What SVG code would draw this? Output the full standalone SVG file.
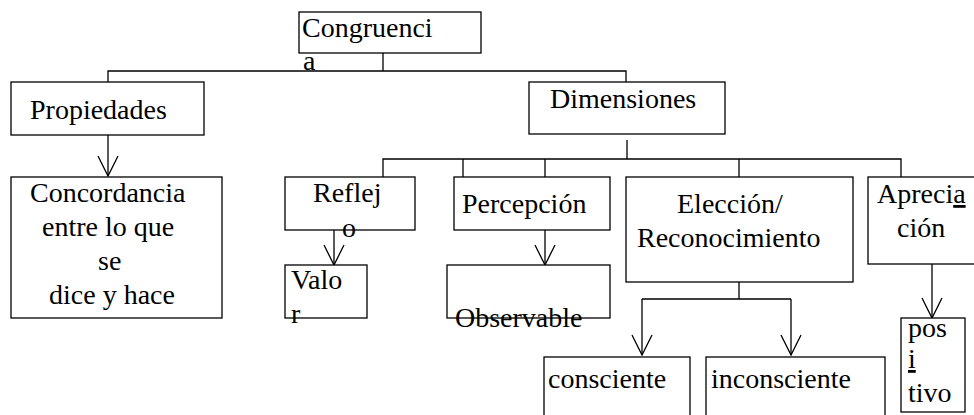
<svg xmlns="http://www.w3.org/2000/svg" width="974" height="415" viewBox="0 0 974 415" font-family="'Liberation Serif', 'Times New Roman', Times, 'DejaVu Serif', serif">
<style>
.box{fill:#fff;stroke:#000;stroke-width:1.3}
.t{font-family:'Liberation Serif','Times New Roman',Times,'DejaVu Serif',serif;font-size:28px;fill:#000}
.c{fill:none;stroke:#000;stroke-width:1.3}
.u{text-decoration:underline}
</style>
<defs>
<marker id="v" viewBox="-21 -11 22 22" markerWidth="22" markerHeight="22" refX="0" refY="0" orient="auto" markerUnits="userSpaceOnUse" overflow="visible">
<path d="M-20,-10 L0,0 L-20,10" fill="none" stroke="#000" stroke-width="1.3"/>
</marker>
</defs>
<rect width="974" height="415" fill="#fff"/>
<g id="connectors">
<path class="c" d="M383,53 V71 M108,89 V71 H626 V89"/>
<path class="c" d="M108,135 V176" marker-end="url(#v)"/>
<path class="c" d="M627,140 V159 M383,177 V159 H901 V177 M463,159 V177 M545,159 V177 M739,159 V177"/>
<path class="c" d="M334,230 V265" marker-end="url(#v)"/>
<path class="c" d="M545,230 V265" marker-end="url(#v)"/>
<path class="c" d="M739,282 V299 M642,299 H791"/>
<path class="c" d="M642,299 V355" marker-end="url(#v)"/>
<path class="c" d="M791,299 V355" marker-end="url(#v)"/>
<path class="c" d="M932,264 V318" marker-end="url(#v)"/>
</g>
<g id="congruencia">
<rect class="box" x="299" y="12" width="182" height="41"/>
<text class="t" x="302" y="37">Congruenci</text>
<text class="t" x="303" y="70">a</text>
</g>
<g id="propiedades">
<rect class="box" x="11" y="82" width="193" height="53"/>
<text class="t" x="30" y="119">Propiedades</text>
</g>
<g id="dimensiones">
<rect class="box" x="529" y="82" width="196" height="52"/>
<text class="t" x="550" y="108">Dimensiones</text>
</g>
<g id="concordancia">
<rect class="box" x="11" y="177" width="211" height="141"/>
<text class="t" x="30" y="202">Concordancia</text>
<text class="t" x="42" y="236">entre lo que</text>
<text class="t" x="98" y="270">se</text>
<text class="t" x="49" y="304">dice y hace</text>
</g>
<g id="reflejo">
<rect class="box" x="285" y="177" width="130" height="53"/>
<text class="t" x="313" y="202">Reflej</text>
<text class="t" x="342" y="237">o</text>
</g>
<g id="percepcion">
<rect class="box" x="454" y="177" width="156" height="53"/>
<text class="t" x="462" y="213">Percepción</text>
</g>
<g id="eleccion">
<rect class="box" x="626" y="177" width="227" height="105"/>
<text class="t" x="677" y="213">Elección/</text>
<text class="t" x="637" y="247">Reconocimiento</text>
</g>
<g id="apreciacion">
<rect class="box" x="868" y="177" width="110" height="87"/>
<text class="t" x="877" y="203">Apreci<tspan class="u">a</tspan></text>
<text class="t" x="897" y="237">ción</text>
</g>
<g id="valor">
<rect class="box" x="285" y="265" width="82" height="53"/>
<text class="t" x="291" y="289">Valo</text>
<text class="t" x="291" y="323">r</text>
</g>
<g id="observable">
<rect class="box" x="447" y="265" width="163" height="53"/>
<text class="t" x="455" y="327">Observable</text>
</g>
<g id="consciente">
<rect class="box" x="544" y="357" width="146" height="70"/>
<text class="t" x="548" y="388">consciente</text>
</g>
<g id="inconsciente">
<rect class="box" x="706" y="357" width="179" height="70"/>
<text class="t" x="711" y="388">inconsciente</text>
</g>
<g id="positivo">
<rect class="box" x="901" y="318" width="64" height="94"/>
<text class="t" x="908" y="337">pos</text>
<text class="t" x="908" y="368"><tspan class="u">i</tspan></text>
<text class="t" x="908" y="402">tivo</text>
</g>
</svg>
